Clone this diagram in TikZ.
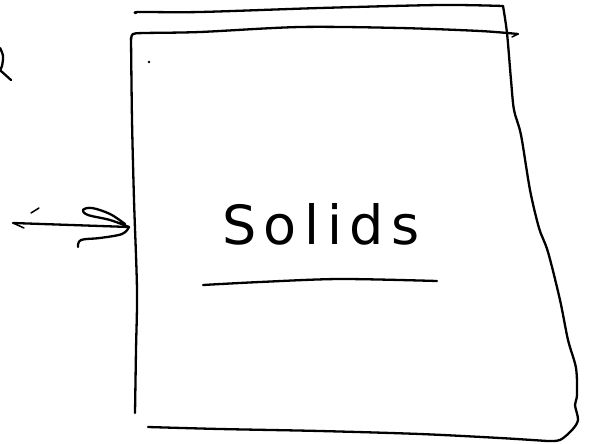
\documentclass[tikz,border=0pt]{standalone}
\usepackage{fontspec}
\setmainfont{DejaVu Sans}
\begin{document}
\begin{tikzpicture}[x=1pt,y=-1pt,
  pen/.style={line width=2.3pt,line cap=round,line join=round},
  thinpen/.style={line width=1.5pt,line cap=round}]
\useasboundingbox (0,0) rectangle (594,444);
% outer top line and right edge
\draw[pen] plot[smooth,tension=0.5] coordinates {(136,13) (140,12) (200,12) (320,8) (440,5) (503,6)};
\draw[pen] plot[smooth,tension=0.5] coordinates {(503,6) (507,33) (511,80) (514,110) (521,135) (530,190) (539,228) (548,252) (560,300) (568,340) (576,368) (577,395) (575,405) (578,420) (572,430) (560,440) (547,441)};
% inner top line
\draw[pen] plot[smooth,tension=0.5] coordinates {(131,40) (133,34) (145,33) (200,32) (300,27) (400,28) (480,31) (518,34)};
\draw[thinpen] (518,34) -- (512,37);
% left edge
\draw[pen] plot[smooth,tension=0.5] coordinates {(131,38) (132,120) (134,200) (137,290) (136,350) (135,413)};
% bottom line
\draw[pen] plot[smooth,tension=0.5] coordinates {(148,427) (220,429) (320,431) (420,434) (500,438) (547,441)};
% dot
\fill (149,62) circle (1.3pt);
% mark at top left
\draw[pen] plot[smooth,tension=0.6] coordinates {(0,48) (3,56) (2,66) (0,70)};
\draw[pen] (1,71) -- (11,80);
% arrow
\coordinate (tip) at (129,227);
\coordinate (tail) at (13,223);
\draw[pen] (tail) -- (tip);
\draw[thinpen] (tail) -- (24,228);
\draw[thinpen] (31,213) -- (39,208);
\draw[pen] plot[smooth,tension=0.6] coordinates {(125,224) (110,214) (92,208) (83,210) (88,215) (110,220) (129,227)};
\draw[pen] plot[smooth,tension=0.6] coordinates {(129,227) (122,234) (100,238) (81,240) (78,247)};
% label
\node[inner sep=0pt,anchor=base west,font=\fontsize{54}{54}\selectfont\addfontfeature{LetterSpace=14}] (lbl) at (222,244) {Solids};
\draw[pen] plot[smooth,tension=0.5] coordinates {(203,285) (260,282) (340,279) (437,281)};
\end{tikzpicture}
\end{document}
